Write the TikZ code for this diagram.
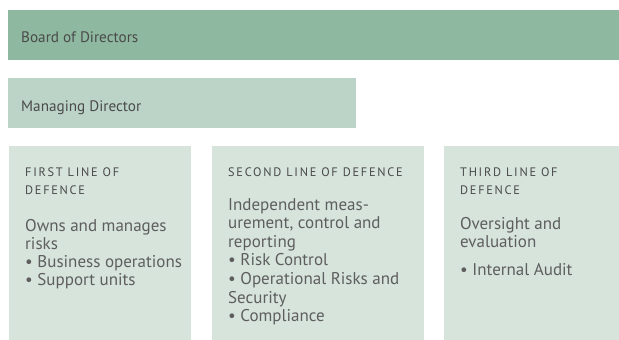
\documentclass[tikz,border=0pt]{standalone}
\usepackage{fontspec}
\setmainfont{PT Sans}
\newfontfamily\hdfont[LetterSpace=14]{PT Sans}
\definecolor{boardc}{HTML}{8FB8A0}
\definecolor{mdc}{HTML}{BCD4C7}
\definecolor{linec}{HTML}{D6E4DC}
\definecolor{txtc}{HTML}{4A4A4A}
\definecolor{bodyc}{HTML}{5E5E5E}
\tikzset{
  x=1pt, y=-1pt,
  title/.style={anchor=base west, inner sep=0pt, text=txtc, font=\fontsize{15.2}{18}\selectfont},
  head/.style={anchor=base west, inner sep=0pt, text=txtc, font=\hdfont\fontsize{12.3}{12}\selectfont},
  body/.style={anchor=base west, inner sep=0pt, text=bodyc, font=\fontsize{17}{18}\selectfont},
}
\begin{document}
\begin{tikzpicture}
\useasboundingbox (0,0) rectangle (619,340);
% boxes
\fill[boardc] (8,10) rectangle (619,60);
\fill[mdc] (8,78) rectangle (356,128);
\fill[linec] (9,146) rectangle (191,340);
\fill[linec] (212,146) rectangle (424,340);
\fill[linec] (444,146) rectangle (619,340);
% top titles
\node[title] (board) at (21,42.7) {Board of Directors};
\node[title] (md) at (21,111.3) {Managing Director};
% first line
\node[head] (h1a) at (25,176.3) {FIRST LINE OF};
\node[head] (h1b) at (25,194) {DEFENCE};
\node[body] (f1) at (25,231.7) {Owns and manages};
\node[body] (f2) at (25,249.7) {risks};
\node[body] (f3) at (25,267.7) {• Business operations};
\node[body] (f4) at (25,285.7) {• Support units};
% second line
\node[head] (h2a) at (228,176.3) {SECOND LINE OF DEFENCE};
\node[body] (s1) at (228,210) {Independent meas-};
\node[body] (s2) at (228,228.5) {urement, control and};
\node[body] (s3) at (228,247) {reporting};
\node[body] (s4) at (228,265.5) {• Risk Control};
\node[body] (s5) at (228,284.5) {• Operational Risks and};
\node[body] (s6) at (228,303) {Security};
\node[body] (s7) at (228,321.7) {• Compliance};
% third line
\node[head] (h3a) at (460,176.3) {THIRD LINE OF};
\node[head] (h3b) at (460,194) {DEFENCE};
\node[body] (t1) at (460,229) {Oversight and};
\node[body] (t2) at (460,247.3) {evaluation};
\node[body] (t3) at (460,275.7) {• Internal Audit};
\end{tikzpicture}
\end{document}
